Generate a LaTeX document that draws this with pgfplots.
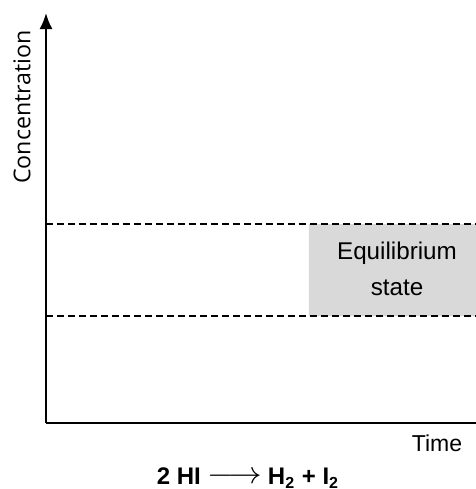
\documentclass[border=0pt]{standalone}
\usepackage{fontspec}
\setmainfont{Liberation Sans}
\newfontfamily\opensans{Open Sans}
\usepackage{pgfplots}
\usetikzlibrary{arrows.meta}
\pgfplotsset{compat=1.18}
\definecolor{boxgray}{HTML}{D9D9D9}
\begin{document}
\begin{tikzpicture}
\useasboundingbox (-23pt,-33pt) rectangle (215pt,211.5pt);
\begin{axis}[
  scale only axis, width=215pt, height=205pt,
  xmin=0, xmax=430, ymin=0, ymax=410,
  axis lines=left,
  x axis line style={-, line width=1pt},
  y axis line style={-{Latex[length=8pt,width=6.5pt]}, line width=1pt},
  xtick=\empty, ytick=\empty,
  clip=false,
]
\addplot[draw=none, fill=boxgray] coordinates {(263,107) (430,107) (430,199) (263,199) (263,107)};
\addplot[black, line width=0.9pt, dash pattern=on 3.5pt off 2pt] coordinates {(0,199) (430,199)};
\addplot[black, line width=0.9pt, dash pattern=on 3.5pt off 2pt] coordinates {(0,107) (430,107)};
\node[font=\fontsize{12.1}{14}\selectfont] at (axis cs:351,170) {Equilibrium};
\node[font=\fontsize{12.1}{14}\selectfont] at (axis cs:351,135) {state};
\node[font=\fontsize{11.5}{14}\selectfont] at (axis cs:391,-20) {Time};
\node[rotate=90, font=\opensans\fontsize{11.6}{14}\selectfont] at (axis cs:-24,316) {Concentration};
\node[font=\bfseries\fontsize{12}{13}\selectfont, inner sep=0pt] at (axis cs:202,-55) {2 HI\hspace{3.5pt}\raisebox{0.3pt}{\scalebox{1.4}[1.3]{$\longrightarrow$}}\hspace{3pt}H\textsubscript{2} + I\textsubscript{2}};
\end{axis}
\end{tikzpicture}
\end{document}
